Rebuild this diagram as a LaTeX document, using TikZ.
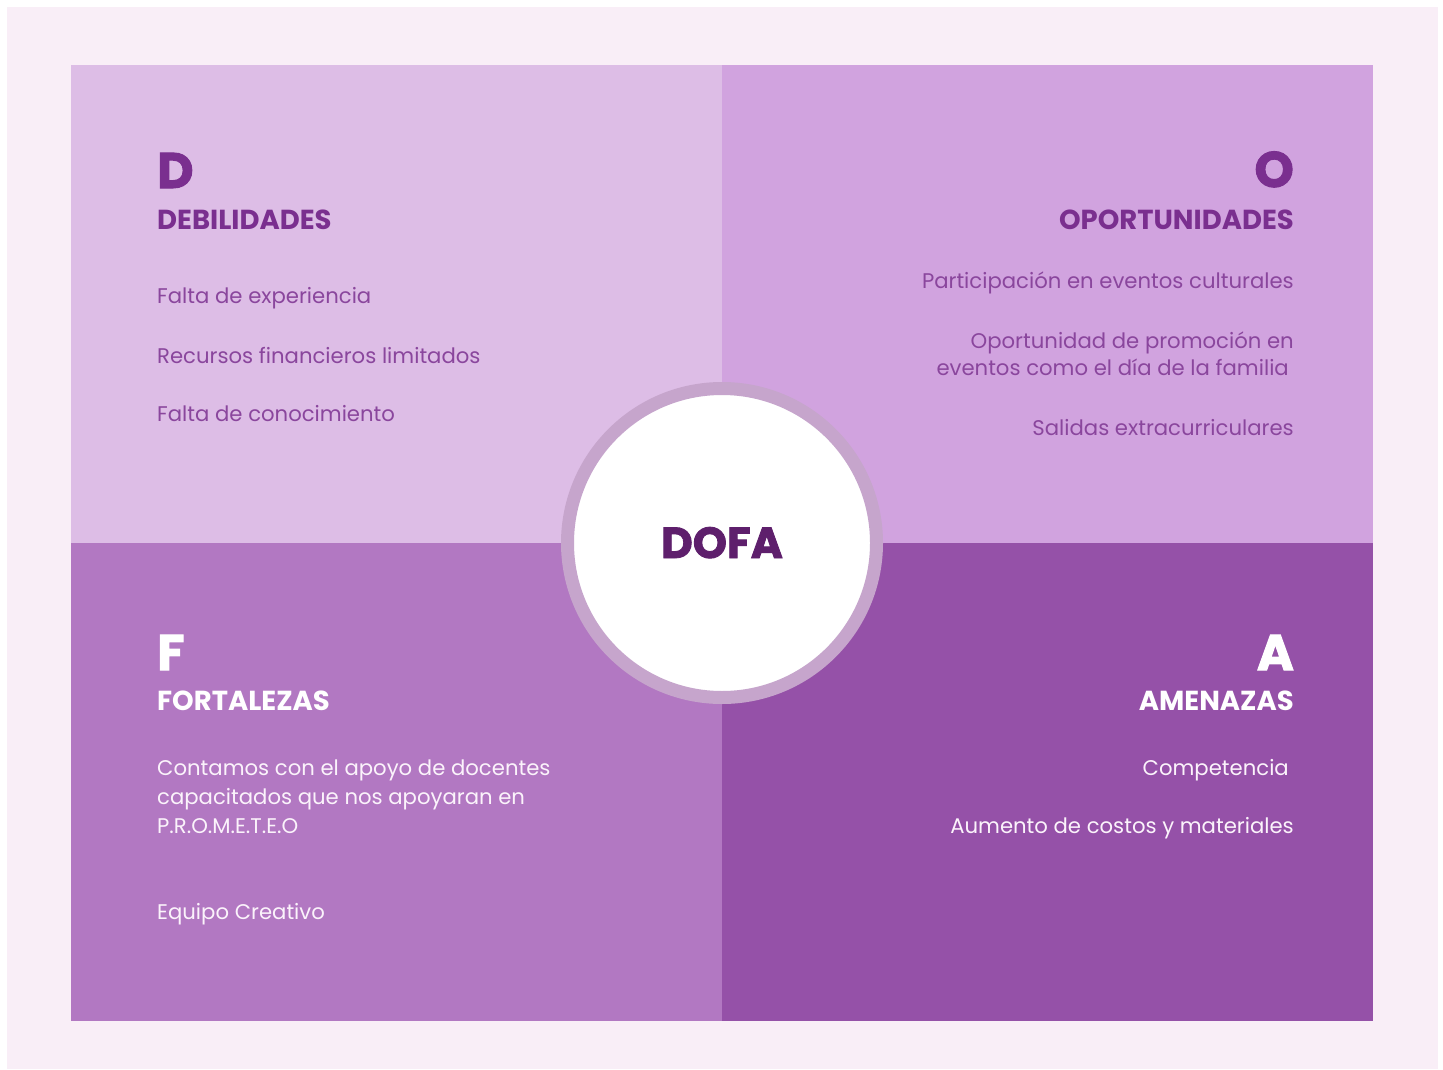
\documentclass[tikz,border=0pt]{standalone}
\usepackage{fontspec}
\setmainfont{Poppins}
\newfontfamily\heavyfont{Poppins}[BoldFeatures={FakeBold=2}]
\usepackage{xcolor}
\definecolor{bgpink}{HTML}{F9EEF7}
\definecolor{quadD}{HTML}{DDBDE6}
\definecolor{quadO}{HTML}{D1A3DF}
\definecolor{quadF}{HTML}{B278C2}
\definecolor{quadA}{HTML}{9551A8}
\definecolor{ringcol}{HTML}{C6A5CC}
\definecolor{headcol}{HTML}{7A2F8F}
\definecolor{entrycol}{HTML}{8A469D}
\definecolor{dofacol}{HTML}{5E1F6C}
\definecolor{softwhite}{HTML}{FBF3FB}
\tikzset{
  letter/.style={anchor=base west, inner sep=0pt, font=\fontsize{50}{50}\selectfont\heavyfont\bfseries},
  heading/.style={anchor=base west, inner sep=0pt, font=\fontsize{27.5}{30}\selectfont\bfseries},
  entry/.style={anchor=base west, inner sep=0pt, align=left, font=\fontsize{21.2}{29}\selectfont},
  toright/.style={anchor=base east, align=right},
}

\begin{document}
\begin{tikzpicture}[x=1pt,y=-1pt]
\useasboundingbox (0,0) rectangle (1443,1070);
\fill[white] (0,0) rectangle (1443,1070);
\fill[bgpink] (7,7) rectangle (1438,1069);
% quadrants
\fill[quadD] (71,65) rectangle (722,543);
\fill[quadO] (722,65) rectangle (1373,543);
\fill[quadF] (71,543) rectangle (722,1021);
\fill[quadA] (722,543) rectangle (1373,1021);
% centre
\node[circle, fill=white, draw=ringcol, line width=13pt, minimum size=309pt, inner sep=0pt] (hub) at (722,543) {};
\node[anchor=base, inner sep=0pt, text=dofacol, font=\fontsize{43.5}{43}\selectfont\heavyfont\bfseries] (dofa) at (722,558) {DOFA};
% D
\node[letter, text=headcol] (dletter) at (157,188) {D};
\node[heading, text=headcol] (dhead) at (157,229) {DEBILIDADES};
\node[entry, text=entrycol] (d1) at (157,303) {Falta de experiencia};
\node[entry, text=entrycol] (d2) at (157,363) {Recursos financieros limitados};
\node[entry, text=entrycol] (d3) at (157,421) {Falta de conocimiento};
% O
\node[letter, toright, text=headcol] (oletter) at (1294,187) {O};
\node[heading, toright, text=headcol] (ohead) at (1294,229) {OPORTUNIDADES};
\node[entry, toright, text=entrycol] (o1) at (1294,288) {Participación en eventos culturales};
\node[entry, toright, text=entrycol, font=\fontsize{21.2}{27}\selectfont] (o2) at (1294,375) {Oportunidad de promoción en\\eventos como el día de la familia\hspace*{5pt}};
\node[entry, toright, text=entrycol] (o3) at (1294,435) {Salidas extracurriculares};
% F
\node[letter, text=white] (fletter) at (157,670) {F};
\node[heading, text=white] (fhead) at (157,710) {FORTALEZAS};
\node[entry, text=softwhite] (f1) at (157,833) {Contamos con el apoyo de docentes\\capacitados que nos apoyaran en\\P.R.O.M.E.T.E.O};
\node[entry, text=softwhite] (f2) at (157,919) {Equipo Creativo};
% A
\node[letter, toright, text=white] (aletter) at (1294,670) {A};
\node[heading, toright, text=white] (ahead) at (1294,710) {AMENAZAS};
\node[entry, toright, text=softwhite] (a1) at (1289,775) {Competencia};
\node[entry, toright, text=softwhite] (a2) at (1294,833) {Aumento de costos y materiales};
\end{tikzpicture}
\end{document}
